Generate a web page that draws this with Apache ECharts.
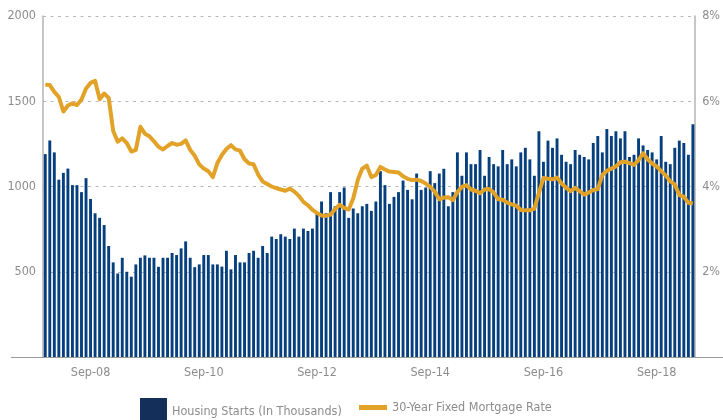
<!DOCTYPE html>
<html>
<head>
<meta charset="utf-8">
<script src="https://cdn.jsdelivr.net/npm/echarts@6/dist/echarts.min.js"></script>
<style>
html,body{margin:0;padding:0;background:#fff;}
#chart{width:723px;height:420px;}
</style>
</head>
<body>
<div id="chart"></div>
<script>
// Monthly housing starts (thousands), Sep 2007 .. Aug 2019
const housingStarts = [
  1190,1270,1200,1040,1080,1105,1008,1008,967,1049,927,843,
  816,774,651,555,490,582,500,471,543,582,596,582,
  582,529,582,582,610,598,637,678,582,527,543,598,
  598,543,543,530,623,514,598,555,555,610,623,582,
  651,610,706,692,720,706,692,753,706,753,739,753,
  843,912,843,967,884,967,994,816,871,843,884,898,
  857,912,1090,1008,898,939,967,1035,980,925,1076,980,
  994,1090,1020,1076,1104,884,967,1200,1063,1200,1131,1131,
  1214,1063,1173,1131,1118,1214,1131,1159,1118,1200,1227,1159,
  1063,1324,1145,1269,1227,1282,1186,1145,1131,1214,1186,1173,
  1159,1255,1296,1200,1337,1296,1324,1282,1324,1173,1186,1282,
  1241,1214,1200,1159,1296,1145,1131,1227,1269,1255,1186,1365
];
// 30-year fixed mortgage rate (%), same months
const mortgageRate = [
  6.39,6.38,6.22,6.10,5.76,5.90,5.95,5.91,6.04,6.30,6.43,6.48,
  6.05,6.18,6.08,5.30,5.05,5.13,5.02,4.82,4.86,5.40,5.24,5.18,
  5.06,4.93,4.87,4.95,5.02,4.98,5.00,5.08,4.86,4.72,4.52,4.42,
  4.36,4.22,4.55,4.74,4.88,4.97,4.87,4.84,4.64,4.54,4.52,4.28,
  4.12,4.06,4.00,3.96,3.93,3.90,3.95,3.88,3.78,3.64,3.56,3.45,
  3.38,3.32,3.31,3.34,3.47,3.57,3.50,3.46,3.72,4.15,4.42,4.49,
  4.22,4.27,4.46,4.40,4.35,4.34,4.33,4.24,4.18,4.15,4.16,4.13,
  4.07,3.99,3.88,3.70,3.74,3.75,3.68,3.87,3.99,4.03,3.93,3.90,
  3.84,3.93,3.94,3.86,3.70,3.69,3.62,3.58,3.55,3.45,3.44,3.44,
  3.48,3.85,4.20,4.18,4.17,4.21,4.07,3.97,3.89,3.97,3.89,3.81,
  3.86,3.92,3.94,4.27,4.37,4.42,4.47,4.57,4.58,4.55,4.51,4.62,
  4.78,4.64,4.54,4.47,4.36,4.26,4.12,4.05,3.80,3.76,3.62,3.60
];
const startYear = 2007, startMonth = 8; // Sep 2007
const monthNames = ['Jan','Feb','Mar','Apr','May','Jun','Jul','Aug','Sep','Oct','Nov','Dec'];
const tickLabels = ['Sep-08','Sep-10','Sep-12','Sep-14','Sep-16','Sep-18'];
const tickIndex = [10,35,60,85,110,135];
const barName = 'Housing Starts (In Thousands)';
const lineName = '30-Year Fixed Mortgage Rate';

const categories = housingStarts.map(function(_, k){
  const m = (startMonth + k) % 12;
  const y = startYear + Math.floor((startMonth + k) / 12);
  return monthNames[m] + '-' + String(y % 100).padStart(2,'0');
});

const FONT = '"DejaVu Sans Condensed", "Liberation Sans Narrow", sans-serif';
const GRAY = '#8c8c8c';
const FS = 12.5;

const chart = echarts.init(document.getElementById('chart'), null, {renderer:'canvas'});
chart.setOption({
  animation: false,
  textStyle: {fontFamily: FONT},
  grid: {left: 43, right: 24, top: 16, bottom: 63, containLabel: false},
  legend: [
    {
      data: [{name: barName, icon: 'rect', itemStyle: {color: '#14305a'}}],
      icon: 'rect',
      left: 140, top: 398, padding: 0, itemWidth: 27, itemHeight: 27,
      selectedMode: false,
      textStyle: {color: GRAY, fontSize: FS, fontFamily: FONT}
    },
    {
      data: [{name: lineName, icon: 'rect', itemStyle: {color: '#e1a227'}}],
      icon: 'rect',
      left: 359, top: 401, padding: 0, itemWidth: 28, itemHeight: 5,
      selectedMode: false,
      textStyle: {color: GRAY, fontSize: FS, fontFamily: FONT}
    }
  ],
  xAxis: {
    type: 'category',
    data: categories,
    boundaryGap: true,
    axisLine: {show: false},
    axisTick: {show: false},
    axisLabel: {
      color: GRAY, fontSize: FS, fontFamily: FONT, margin: 9,
      interval: function(idx){ return tickIndex.indexOf(idx) >= 0; },
      formatter: function(v, idx){ const p = tickIndex.indexOf(idx); return p >= 0 ? tickLabels[p] : ''; }
    },
    splitLine: {show: false}
  },
  yAxis: [
    {
      type: 'value', min: 0, max: 2000, interval: 500,
      axisLine: {show: true, lineStyle: {color: '#b3b3b3', width: 1.5}},
      axisTick: {show: false},
      axisLabel: {color: GRAY, fontSize: FS, fontFamily: FONT, margin: 7, showMinLabel: false,
        formatter: function(v){ return String(v); }},
      splitLine: {show: true, lineStyle: {color: '#b8b8b8', type: [3, 4.5], width: 1}}
    },
    {
      type: 'value', min: 0, max: 8, interval: 2, position: 'right',
      axisLine: {show: true, lineStyle: {color: '#b3b3b3', width: 1.5}},
      axisTick: {show: false},
      axisLabel: {color: GRAY, fontSize: FS, fontFamily: FONT, margin: 7, showMinLabel: false,
        formatter: function(v){ return v + '%'; }},
      splitLine: {show: false}
    }
  ],
  series: [
    {
      name: barName, type: 'bar', data: housingStarts, yAxisIndex: 0,
      barWidth: '64%',
      itemStyle: {color: '#063f7d'},
      z: 2
    },
    {
      name: lineName, type: 'line', data: mortgageRate, yAxisIndex: 1,
      showSymbol: false, symbol: 'none',
      itemStyle: {color: '#e1a227'},
      lineStyle: {color: '#e1a227', width: 4, join: 'round'},
      z: 3
    }
  ],
  graphic: [
    {type: 'line', shape: {x1: 11, y1: 357.5, x2: 723, y2: 357.5},
     style: {stroke: '#9a9a9a', lineWidth: 1.2}, z: 10}
  ]
});
</script>
</body>
</html>
